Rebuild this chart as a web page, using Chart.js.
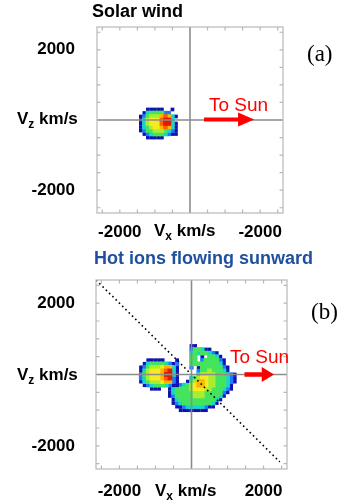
<!DOCTYPE html>
<html lang="en">
<head>
<meta charset="UTF-8">
<title>Ion velocity distributions</title>
<script src="https://cdn.jsdelivr.net/npm/chart.js"></script>
<style>
  body { margin: 0; width: 342px; height: 504px; position: relative; overflow: hidden; background: #fff;
         font-family: "Liberation Sans", Arial, sans-serif; }
  canvas { position: absolute; left: 0; }
  #cvA { top: 0; }
  #cvB { top: 250px; }
  .t { position: absolute; line-height: 1; white-space: nowrap; }
  .ttl { font-size: 18px; font-weight: bold; }
  .ax { font-size: 17px; font-weight: bold; color: #000; }
  .ax sub { font-size: 12px; vertical-align: -4px; line-height: 0; }
  .tag { font-family: "Liberation Serif", "Times New Roman", serif; font-size: 23px; }
  .sun { font-size: 19px; color: #ff0000; }
</style>
</head>
<body>
<canvas id="cvA" width="342" height="250"></canvas>
<canvas id="cvB" width="342" height="254"></canvas>

<div class="t ttl" style="left:92px; top:2px;">Solar wind</div>
<div class="t tag" style="left:307px; top:42px;">(a)</div>
<div class="t ax" style="left:17px; top:110px;">V<sub>z</sub> km/s</div>
<div class="t ax" style="left:154px; top:222px;">V<sub>x</sub> km/s</div>
<div class="t sun" style="left:209px; top:95px;">To Sun</div>

<div class="t ttl" style="left:94px; top:249px; color:#1f4f9e;">Hot ions flowing sunward</div>
<div class="t tag" style="left:311px; top:300px;">(b)</div>
<div class="t ax" style="left:17px; top:366px;">V<sub>z</sub> km/s</div>
<div class="t ax" style="left:155px; top:482px;">V<sub>x</sub> km/s</div>
<div class="t sun" style="left:230px; top:347px;">To Sun</div>

<script>
// cell size of the distribution grids, km/s
const CELL = 100;
// phase space density level 1..9 -> colour
const levelColors = ['', '#1010b0', '#1f78ff', '#16d6cc', '#44e45c', '#a8ee30', '#f4ec20', '#ffb400', '#ff6000', '#e01a00'];

// (a) solar wind beam, first row Vz=+300, first column Vx=-1500
const swVx0 = -1500, swVz0 = 300;
const swRows = [
  '0001111100100',
  '0013444422000',
  '0124555787310',
  '0135666899300',
  '0135666899310',
  '0134566787310',
  '0124455543210',
  '0012344432110',
  '0001111100000'
];

// (b) cold core, first row Vz=+400, first column Vx=-1500
const coreVx0 = -1500, coreVz0 = 400;
const coreRows = [
  '0001111100010',
  '0013444432120',
  '0124555677310',
  '0135666789310',
  '0245666799310',
  '0235666789210',
  '0134555677210',
  '0012344432110',
  '0000111000000'
];

// (b) hot shell, first row Vz=+800, first column Vx=-700
const shellVx0 = -700, shellVz0 = 800;
const shellRows = [
  '000000011000000000000',
  '000000024431100000000',
  '000000034344321000000',
  '000000044010443100000',
  '000000044024444210000',
  '000000044444444310000',
  '000000020144444421000',
  '000000000244544431000',
  '000000000355554443210',
  '000000034566554443210',
  '000000145776554443210',
  '001123456776554443100',
  '013444456665544432100',
  '013444445554444421000',
  '012444445554444310000',
  '001344444444443100000',
  '001234444444431000000',
  '000112333332110000000',
  '000011111111000000000'
];

// dotted line Vz = -Vx
const diagVx = [-2650, 2450];

const axisRange = [-2650, 2650];
const minorTicks = [-2500, -2000, -1500, -1000, -500, 500, 1000, 1500, 2000, 2500];
const labelTicks = [-2000, 2000];
const yLabels = ['-2000', '2000'];
const xLabelsA = ['-2000', '-2000'];
const xLabelsB = ['-2000', '2000'];

const tickFont = { family: "'Liberation Sans', Arial, sans-serif", size: 17, weight: 'bold' };
// inner levels drawn a bit larger so they overlap the ring around them
const levelSize = [0, 1.05, 1.2, 1.3, 1.3, 1.3, 1.3, 1.3, 1.3, 1.3];

function cells(rows, vx0, vz0) {
  const pts = [];
  rows.forEach((row, i) => {
    [...row].forEach((ch, j) => {
      const lvl = +ch;
      if (lvl) pts.push({ x: vx0 + j * CELL, y: vz0 - i * CELL, lvl });
    });
  });
  return pts.sort((p, q) => p.lvl - q.lvl);
}

function cellSet(rows, vx0, vz0) {
  const pts = cells(rows, vx0, vz0);
  return {
    cells: true,
    data: pts,
    backgroundColor: pts.map(p => levelColors[p.lvl]),
    borderWidth: 0,
    pointStyle: 'rect',
    order: 2,
    radius: ctx => {
      const s = ctx.chart.scales.x;
      const px = Math.abs(s.getPixelForValue(CELL) - s.getPixelForValue(0));
      const lvl = ctx.raw ? ctx.raw.lvl : 4;
      return px * levelSize[lvl] / (2 * Math.SQRT1_2);
    }
  };
}

const vdf = {
  id: 'vdf',
  beforeDatasetDraw(chart, args) {
    if (chart.data.datasets[args.index].cells) {
      chart.ctx.save();
      chart.ctx.filter = 'blur(0.5px)';
    }
  },
  afterDatasetDraw(chart, args) {
    if (chart.data.datasets[args.index].cells) chart.ctx.restore();
  },
  afterDatasetsDraw(chart, args, opts) {
    const { ctx, chartArea: a, scales: { x, y } } = chart;
    ctx.save();
    // zero lines
    const x0 = x.getPixelForValue(0), y0 = y.getPixelForValue(0);
    ctx.strokeStyle = '#8c8c8c';
    ctx.lineWidth = 1.6;
    ctx.beginPath();
    ctx.moveTo(x0, a.top); ctx.lineTo(x0, a.bottom);
    ctx.moveTo(a.left, y0); ctx.lineTo(a.right, y0);
    ctx.stroke();
    // box and inner ticks
    ctx.strokeStyle = '#b8b8b8';
    ctx.lineWidth = 1.2;
    ctx.strokeRect(a.left, a.top, a.right - a.left, a.bottom - a.top);
    ctx.beginPath();
    minorTicks.forEach(v => {
      const px = x.getPixelForValue(v), py = y.getPixelForValue(v);
      ctx.moveTo(px, a.top); ctx.lineTo(px, a.top + 3.5);
      ctx.moveTo(px, a.bottom); ctx.lineTo(px, a.bottom - 3.5);
      ctx.moveTo(a.left, py); ctx.lineTo(a.left + 3.5, py);
      ctx.moveTo(a.right, py); ctx.lineTo(a.right - 3.5, py);
    });
    ctx.stroke();
    // sunward arrow
    const ar = opts.arrow;
    if (ar) {
      const p0 = x.getPixelForValue(ar.from), ph = x.getPixelForValue(ar.head), pt = x.getPixelForValue(ar.to);
      const py = y0 + ar.dy;
      ctx.fillStyle = '#ff0000';
      ctx.fillRect(p0, py - ar.shaft / 2, ph - p0 + 1, ar.shaft);
      ctx.beginPath();
      ctx.moveTo(ph, py - ar.half); ctx.lineTo(pt, py); ctx.lineTo(ph, py + ar.half);
      ctx.closePath();
      ctx.fill();
    }
    ctx.restore();
  }
};

function panel(id, area, datasets, xLabels, arrow, pad) {
  const cv = document.getElementById(id);
  return new Chart(cv, {
    type: 'scatter',
    data: { datasets },
    options: {
      responsive: false,
      animation: false,
      events: [],
      devicePixelRatio: 1,
      layout: { padding: { left: 0, top: area.top, right: cv.width - area.right, bottom: 0 } },
      plugins: { legend: { display: false }, tooltip: { enabled: false }, vdf: { arrow } },
      scales: {
        x: {
          type: 'linear', min: axisRange[0], max: axisRange[1],
          grid: { display: false }, border: { display: false },
          afterFit: s => { s.height = cv.height - area.bottom; },
          afterBuildTicks: s => { s.ticks = labelTicks.map(v => ({ value: v })); },
          ticks: { autoSkip: false, maxRotation: 0, padding: pad.x, color: '#000', font: tickFont,
                   callback: (v, i) => xLabels[i] }
        },
        y: {
          type: 'linear', min: axisRange[0], max: axisRange[1],
          grid: { display: false }, border: { display: false },
          afterFit: s => { s.width = area.left; },
          afterBuildTicks: s => { s.ticks = labelTicks.map(v => ({ value: v })); },
          ticks: { autoSkip: false, padding: pad.y, color: '#000', font: tickFont,
                   callback: (v, i) => yLabels[i] }
        }
      }
    },
    plugins: [vdf]
  });
}

panel('cvA', { left: 97, right: 283, top: 27, bottom: 213 },
  [cellSet(swRows, swVx0, swVz0)],
  xLabelsA,
  { from: 400, head: 1370, to: 1830, dy: -0.5, shaft: 4, half: 7 },
  { x: 1, y: 14 });

panel('cvB', { left: 96, right: 287, top: 30, bottom: 219 },
  [
    {
      data: diagVx.map(v => ({ x: v, y: -v })),
      showLine: true, pointRadius: 0, borderColor: '#000', borderWidth: 1.6,
      borderDash: [1.6, 3], order: 0
    },
    cellSet(coreRows, coreVx0, coreVz0),
    cellSet(shellRows, shellVx0, shellVz0)
  ],
  xLabelsB,
  { from: 1470, head: 1950, to: 2290, dy: 0, shaft: 4.5, half: 7.5 },
  { x: 4, y: 13 });
</script>
</body>
</html>
